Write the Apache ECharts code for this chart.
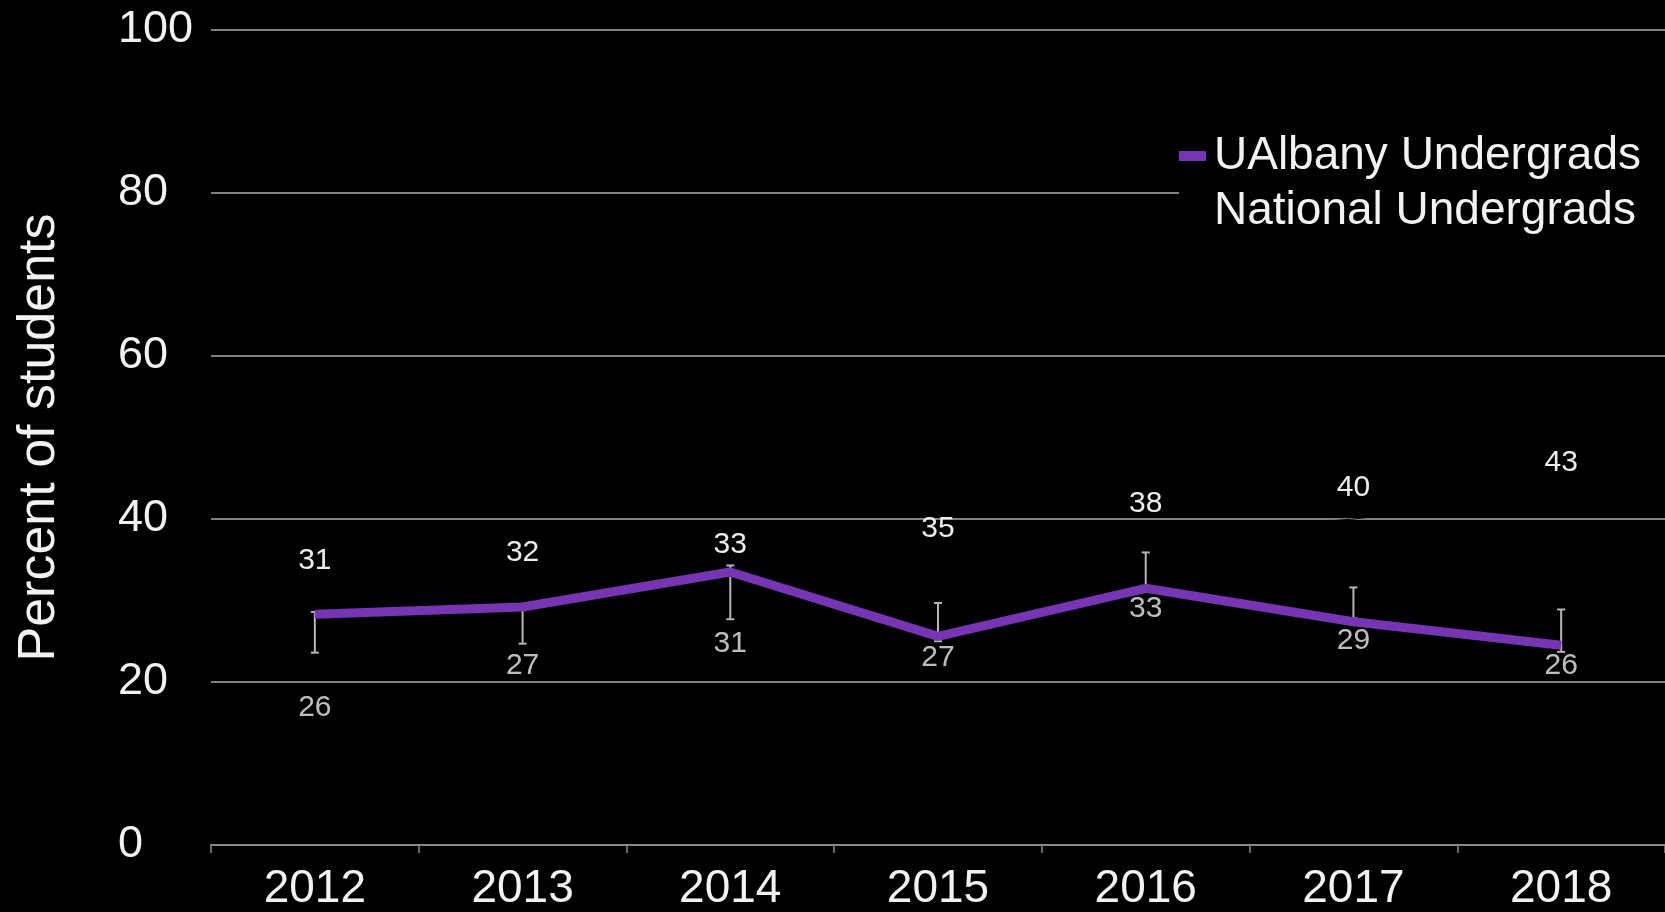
<!DOCTYPE html>
<html>
<head>
<meta charset="utf-8">
<script src="https://cdn.jsdelivr.net/npm/echarts@6/dist/echarts.min.js"></script>
<style>
  html, body { margin: 0; padding: 0; background: #000; }
  #chart { width: 1665px; height: 912px; }
</style>
</head>
<body>
<div id="chart"></div>
<script>
// values
var years = ['2012', '2013', '2014', '2015', '2016', '2017', '2018'];
var ualbanyLine = [28.3, 29.2, 33.5, 25.6, 31.5, 27.4, 24.5];
var ualbanyLow = [23.6, 24.7, 27.7, 25.0, 31.3, 27.8, 23.7];
var ualbanyHigh = [28.6, 29.5, 34.3, 29.7, 35.9, 31.6, 28.9];
var ualbanyLabels = [26, 27, 31, 27, 33, 29, 26];
var nationalValues = [31, 32, 33, 35, 38, 40, 43];
var yTicks = [0, 20, 40, 60, 80, 100];

// extra downward shift of the first UAlbany labels (px)
var labelNudge = [42, 8, 19, 0, 0, 0, 0];

var purple = '#7636b3';
var labelFont = "'Liberation Sans Narrow', 'Liberation Sans', sans-serif";

function initChart(){
	var chart = echarts.init(document.getElementById('chart'));
	chart.setOption(buildOption());
	window.addEventListener('resize', function(){
		chart.resize();
	});
}

function buildOption(){
	var errData = years.map(function(y, i){
		return [i, ualbanyLow[i], ualbanyHigh[i]];
	});
	var labelData = ualbanyLabels.map(function(v, i){
		return {
			value: v,
			label: { offset: [0, labelNudge[i]] }
		};
	});
	return {
		backgroundColor: '#000',
		animation: false,
		textStyle: { fontFamily: "'Liberation Sans', Arial, sans-serif" },
		grid: {
			left: 211,
			top: 30,
			width: 1456,
			bottom: 65,
			containLabel: false
		},
		legend: {
			orient: 'vertical',
			right: 0,
			top: 129,
			padding: [4, 24, 4, 0],
			backgroundColor: '#000',
			itemWidth: 27,
			itemHeight: 10,
			itemGap: 9,
			icon: 'rect',
			textStyle: {
				color: '#f2f2f2',
				fontSize: 46,
				padding: [0, 0, 0, 3]
			},
			data: [
				{ name: 'UAlbany Undergrads', itemStyle: { color: purple } },
				{ name: 'National Undergrads', itemStyle: { color: '#000' } }
			]
		},
		xAxis: {
			type: 'category',
			data: years,
			boundaryGap: true,
			axisLine: { lineStyle: { color: '#8a8a8a', width: 2 } },
			axisTick: { show: true, length: 8, lineStyle: { color: '#8a8a8a', width: 1.5 } },
			axisLabel: {
				color: '#f2f2f2',
				fontSize: 46,
				margin: 21
			}
		},
		yAxis: {
			type: 'value',
			min: yTicks[0],
			max: yTicks[yTicks.length - 1],
			interval: 20,
			name: 'Percent of students',
			nameLocation: 'middle',
			nameGap: 145,
			nameRotate: 90,
			nameTextStyle: { color: '#f2f2f2', fontSize: 52 },
			axisLine: { show: false },
			axisTick: { show: false },
			axisLabel: {
				color: '#f2f2f2',
				fontSize: 45,
				align: 'left',
				margin: 93
			},
			splitLine: { lineStyle: { color: '#7f7f7f', width: 2 } }
		},
		series: [
			{
				name: 'UAlbany error',
				type: 'custom',
				z: 1,
				silent: true,
				data: errData,
				renderItem: function(params, api){
					var lo = api.coord([api.value(0), api.value(1)]);
					var hi = api.coord([api.value(0), api.value(2)]);
					var style = { stroke: '#b5b5b5', lineWidth: 2 };
					return {
						type: 'group',
						children: [
							{ type: 'line', shape: { x1: lo[0], y1: lo[1], x2: hi[0], y2: hi[1] }, style: style },
							{ type: 'line', shape: { x1: lo[0] - 4, y1: lo[1], x2: lo[0] + 4, y2: lo[1] }, style: style },
							{ type: 'line', shape: { x1: hi[0] - 4, y1: hi[1], x2: hi[0] + 4, y2: hi[1] }, style: style }
						]
					};
				}
			},
			{
				name: 'National Undergrads',
				type: 'line',
				z: 2,
				data: nationalValues,
				symbol: 'circle',
				symbolSize: 1,
				itemStyle: { color: '#000' },
				lineStyle: { color: '#000', width: 1 },
				label: {
					show: true,
					position: 'top',
					distance: 16,
					color: '#ececec',
					fontSize: 30,
					fontFamily: labelFont
				}
			},
			{
				name: 'UAlbany Undergrads',
				type: 'line',
				z: 3,
				data: ualbanyLine,
				symbol: 'none',
				itemStyle: { color: purple },
				lineStyle: { color: purple, width: 9 }
			},
			{
				name: 'UAlbany labels',
				type: 'scatter',
				z: 4,
				data: labelData,
				symbolSize: 1,
				itemStyle: { color: 'rgba(0,0,0,0)' },
				label: {
					show: true,
					position: 'bottom',
					distance: 17,
					color: '#ececec',
					fontSize: 30,
					fontFamily: labelFont,
					formatter: function(p){ return p.value; }
				}
			}
		]
	};
}

initChart();
</script>
</body>
</html>
